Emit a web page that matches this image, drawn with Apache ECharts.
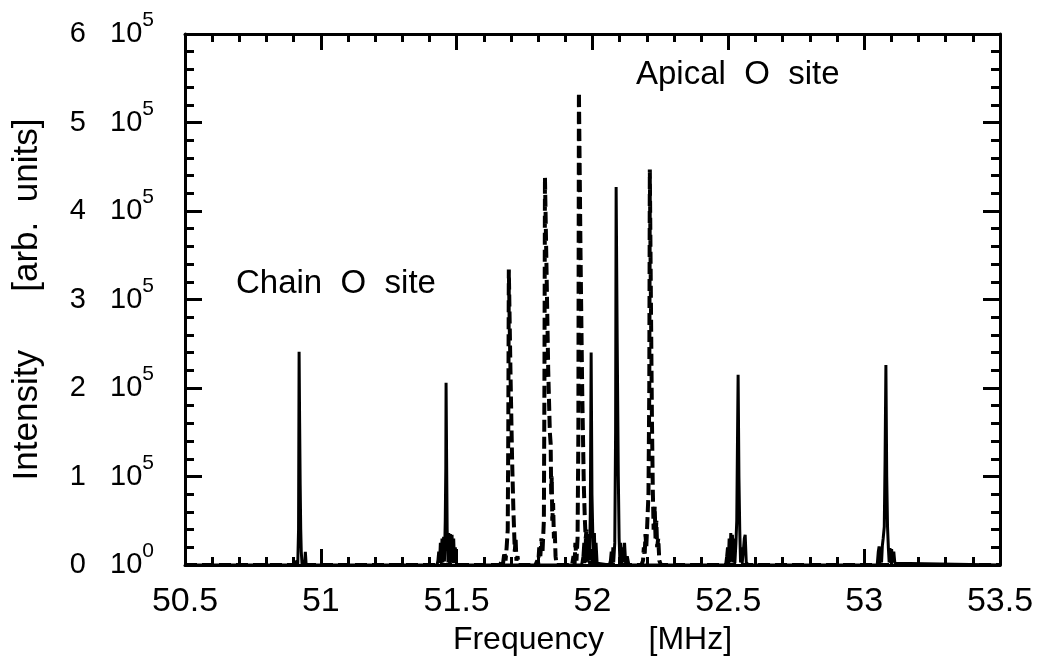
<!DOCTYPE html>
<html>
<head>
<meta charset="utf-8">
<script src="https://cdn.jsdelivr.net/npm/echarts@6/dist/echarts.min.js"></script>
<style>
  html, body { margin: 0; padding: 0; background: #fff; }
  #chart { width: 1046px; height: 662px; }
</style>
</head>
<body>
<div id="chart"></div>
<script>
// intensities are in units of 1e5 (arb. units), frequencies in MHz
const solidFreq = [
  50.50, 50.905, 50.912, 50.915, 50.918, 50.920, 50.922, 50.924, 50.926, 50.928, 50.931, 50.940, 50.943, 50.946,
  51.428, 51.431, 51.434, 51.437, 51.440, 51.443, 51.446, 51.449, 51.452, 51.455, 51.458, 51.460, 51.461, 51.463,
  51.465, 51.468, 51.471, 51.474, 51.477, 51.480, 51.483, 51.486, 51.489, 51.492, 51.495, 51.500,
  51.960, 51.965, 51.968, 51.971, 51.974, 51.977, 51.980, 51.983, 51.986, 51.989, 51.992, 51.995, 51.998,
  52.001, 52.004, 52.007, 52.010, 52.013, 52.017, 52.022,
  52.062, 52.066, 52.069, 52.072, 52.075, 52.078, 52.082, 52.085, 52.087, 52.091, 52.095, 52.098, 52.101,
  52.104, 52.107, 52.110, 52.114, 52.118, 52.122, 52.128, 52.134,
  52.490, 52.494, 52.497, 52.500, 52.503, 52.506, 52.509, 52.512, 52.515, 52.518, 52.521, 52.524, 52.528,
  52.531, 52.534, 52.536, 52.539, 52.542, 52.545, 52.548, 52.551, 52.555, 52.559, 52.562, 52.566, 52.570, 52.574,
  53.048, 53.052, 53.055, 53.058, 53.061, 53.064, 53.067, 53.070, 53.074, 53.077, 53.080, 53.083, 53.086,
  53.089, 53.092, 53.095, 53.098, 53.101, 53.105, 53.109, 53.113, 53.118, 53.50
];
const solidInt = [
  0, 0, 0.05, 0, 0.4, 2.41, 1.6, 0.9, 0.4, 0.15, 0, 0, 0.15, 0,
  0, 0.05, 0.15, 0.02, 0.25, 0.02, 0.3, 0.03, 0.32, 0.04, 0.5, 1.1, 2.06, 1.2,
  0.4, 0.03, 0.36, 0.02, 0.35, 0.03, 0.34, 0.02, 0.3, 0.02, 0.2, 0,
  0, 0.1, 0.25, 0.02, 0.3, 0.03, 0.35, 0.04, 0.3, 0.05, 0.6, 2.40, 0.8,
  0.36, 0.03, 0.36, 0.02, 0.25, 0.02, 0,
  0, 0.05, 0.15, 0.02, 0.2, 0.03, 0.25, 1.5, 4.27, 2.5, 1.0, 0.3, 0.03,
  0.25, 0.02, 0.2, 0.03, 0.25, 0.02, 0.1, 0,
  0, 0.1, 0.2, 0.02, 0.3, 0.03, 0.36, 0.04, 0.34, 0.03, 0.3, 0.02, 0.25,
  0.5, 1.5, 2.15, 1.0, 0.4, 0.03, 0.2, 0.02, 0.15, 0.3, 0.34, 0.03, 0.05, 0,
  0, 0.15, 0.21, 0.02, 0.2, 0.03, 0.22, 0.3, 0.43, 1.2, 2.26, 1.0, 0.43,
  0.2, 0.03, 0.19, 0.02, 0.18, 0.03, 0.15, 0.02, 0, 0
];

const dashFreq = [
  50.50, 51.660, 51.666, 51.670, 51.676, 51.680, 51.684, 51.688, 51.690, 51.692, 51.698, 51.704, 51.709,
  51.711, 51.714, 51.717, 51.720, 51.724, 51.728,
  51.790, 51.797, 51.800, 51.804, 51.808, 51.812, 51.816, 51.821, 51.823, 51.825, 51.831, 51.837, 51.843,
  51.846, 51.848, 51.850, 51.852, 51.855, 51.858, 51.861, 51.864, 51.868,
  51.925, 51.930, 51.934, 51.937, 51.941, 51.945, 51.948, 51.950, 51.956, 51.962, 51.968, 51.972, 51.975,
  51.978, 51.981, 51.984, 51.988, 51.992,
  52.180, 52.186, 52.189, 52.192, 52.195, 52.198, 52.202, 52.206, 52.209, 52.211, 52.215, 52.219, 52.222,
  52.225, 52.229, 52.232, 52.235, 52.238, 52.242, 52.246, 52.252, 53.50
];
const dashInt = [
  0, 0, 0.05, 0, 0.15, 0.05, 0.2, 0.4, 1.5, 3.34, 2.2, 1.2, 0.6,
  0.43, 0.15, 0.3, 0.05, 0.1, 0,
  0, 0.05, 0, 0.2, 0.1, 0.3, 0.15, 0.5, 2.0, 4.38, 3.3, 2.2, 1.5,
  1.37, 0.8, 1.0, 0.5, 0.7, 0.3, 0.4, 0.1, 0,
  0, 0.1, 0, 0.25, 0.05, 0.3, 1.5, 5.34, 3.5, 2.0, 0.9, 0.5, 0.3,
  0.4, 0.15, 0.3, 0.1, 0,
  0, 0.05, 0.2, 0.1, 0.35, 0.2, 0.5, 0.8, 2.0, 4.47, 3.0, 1.6, 0.85,
  0.4, 0.66, 0.3, 0.5, 0.2, 0.3, 0.05, 0, 0
];

const xTicks = [50.5, 51, 51.5, 52, 52.5, 53, 53.5];
const yTicks = [0, 1, 2, 3, 4, 5, 6];

const FONT = "'Liberation Sans', Arial, Helvetica, sans-serif";
const UNIT = 1e5;

const chart = echarts.init(document.getElementById('chart'));

const tickStyle = { color: '#000', width: 3 };

function xAxisOf(pos, showLabel) {
  return {
    type: 'value',
    position: pos,
    min: xTicks[0],
    max: xTicks[xTicks.length - 1],
    interval: 0.5,
    name: showLabel ? 'Frequency     [MHz]' : '',
    nameLocation: 'middle',
    nameGap: 53,
    nameTextStyle: { fontSize: 32, color: '#000', fontFamily: FONT },
    axisLine: { show: true, onZero: false, lineStyle: tickStyle },
    axisTick: { show: true, inside: true, length: 16, lineStyle: tickStyle },
    minorTick: { show: true, splitNumber: 5, length: 8, lineStyle: tickStyle },
    axisLabel: {
      show: showLabel, margin: 20, fontSize: 34, color: '#000', fontFamily: FONT,
      showMinLabel: true, showMaxLabel: true
    },
    splitLine: { show: false }
  };
}

function yAxisOf(pos, showLabel) {
  return {
    type: 'value',
    position: pos,
    min: yTicks[0] * UNIT,
    max: yTicks[yTicks.length - 1] * UNIT,
    interval: UNIT,
    name: showLabel ? 'Intensity      [arb.  units]' : '',
    nameLocation: 'middle',
    nameGap: 140,
    nameTextStyle: { fontSize: 35, color: '#000', fontFamily: FONT },
    axisLine: { show: true, onZero: false, lineStyle: tickStyle },
    axisTick: { show: true, inside: true, length: 17, lineStyle: tickStyle },
    minorTick: { show: true, splitNumber: 5, length: 9, lineStyle: tickStyle },
    axisLabel: {
      show: showLabel, margin: 31,
      formatter: function (v) {
        const n = Math.round(v / UNIT);
        return '{n|' + n + '   10}{s|' + (n === 0 ? 0 : 5) + '}';
      },
      rich: {
        n: { fontSize: 29, lineHeight: 48, color: '#000', fontFamily: FONT },
        s: { fontSize: 21, lineHeight: 20, verticalAlign: 'top', color: '#000', fontFamily: FONT }
      }
    },
    splitLine: { show: false }
  };
}

const option = {
  backgroundColor: '#fff',
  animation: false,
  grid: { left: 185, right: 46, top: 34, bottom: 97, containLabel: false },
  xAxis: [xAxisOf('bottom', true), xAxisOf('top', false)],
  yAxis: [yAxisOf('left', true), yAxisOf('right', false)],
  graphic: [
    {
      type: 'text', left: 236, top: 267,
      style: { text: 'Chain  O  site', fontSize: 33, fill: '#000', fontFamily: FONT }
    },
    {
      type: 'text', left: 636, top: 58,
      style: { text: 'Apical  O  site', fontSize: 33, fill: '#000', fontFamily: FONT }
    }
  ],
  series: [
    {
      name: 'solid',
      type: 'line',
      xAxisIndex: 0, yAxisIndex: 0,
      showSymbol: false, symbol: 'none',
      lineStyle: { color: '#000', width: 3 },
      data: solidFreq.map((f, i) => [f, solidInt[i] * UNIT]),
      z: 3
    },
    {
      name: 'dashed',
      type: 'line',
      xAxisIndex: 0, yAxisIndex: 0,
      showSymbol: false, symbol: 'none',
      lineStyle: { color: '#000', width: 4, type: [12, 5] },
      data: dashFreq.map((f, i) => [f, dashInt[i] * UNIT]),
      z: 2
    }
  ]
};

chart.setOption(option);
</script>
</body>
</html>
